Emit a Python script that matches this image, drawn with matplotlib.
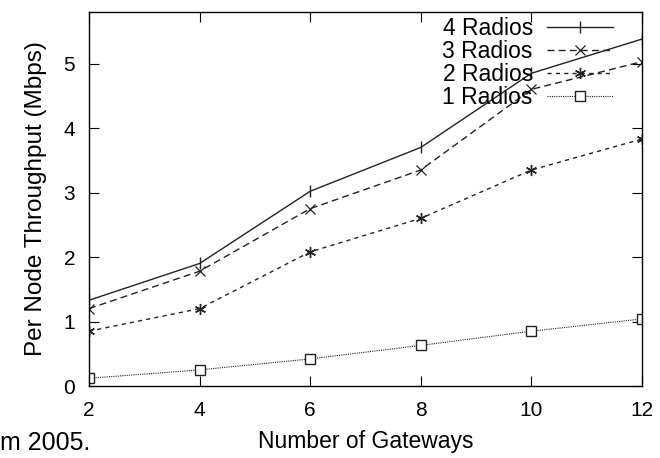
import matplotlib
matplotlib.use("Agg")
from matplotlib import pyplot as plt

# values
gateways = [2, 4, 6, 8, 10, 12]
radios4 = [1.33, 1.90, 3.02, 3.70, 4.85, 5.38]
radios3 = [1.20, 1.78, 2.75, 3.35, 4.60, 5.03]
radios2 = [0.85, 1.20, 2.08, 2.60, 3.35, 3.83]
radios1 = [0.12, 0.25, 0.42, 0.63, 0.85, 1.04]

plt.rcParams['font.family'] = ['Liberation Sans', 'DejaVu Sans']

W, H = 660, 458
fig = plt.figure(figsize=(W / 100, H / 100), dpi=100)
# axes box in pixels: x 89..642, y 12..386
ax = fig.add_axes([89 / W, 1 - 386 / H, (642 - 89) / W, (386 - 12) / H])

col = '#222222'
ax.plot(gateways, radios4, color=col, lw=1.0, ls='-', marker='|', ms=9, mew=1.0, label='4 Radios')
ax.plot(gateways, radios3, color=col, lw=1.0, ls=(0, (5, 3)), marker='x', ms=7, mew=0.9, label='3 Radios')
ax.plot(gateways, radios2, color=col, lw=1.0, ls=(0, (3, 3)), marker=(6, 2, 0), ms=8, mew=1.0, label='2 Radios')
ax.plot(gateways, radios1, color=col, lw=0.8, ls=(0, (1, 1)), marker='s', ms=7, mew=1.0,
        mfc='white', label='1 Radios')

ax.set_xlim(2, 12)
ax.set_ylim(0, 5.8)
ax.set_xticks(gateways)
ax.set_yticks([0, 1, 2, 3, 4, 5])
ax.tick_params(direction='in', top=True, right=True, length=7, labelsize=15)
ax.tick_params(axis='x', pad=11)
ax.tick_params(axis='y', pad=10)
for s in ax.spines.values():
    s.set_linewidth(1.0)

ax.set_xlabel("Number of Gateways", fontsize=16.5, labelpad=7)
ax.set_ylabel("Per Node Throughput (Mbps)", fontsize=17.5, labelpad=12)

ax.legend(loc='upper right', frameon=False, markerfirst=False, fontsize=16.5, handlelength=2.9,
          labelspacing=0.0, borderpad=0, borderaxespad=0, handletextpad=0.6,
          bbox_to_anchor=(613 / W, 1 - 17 / H), bbox_transform=fig.transFigure)

fig.text(0.0, 1 - 450 / H, "m 2005.", fontsize=18)

fig.savefig("out.png", dpi=100)
